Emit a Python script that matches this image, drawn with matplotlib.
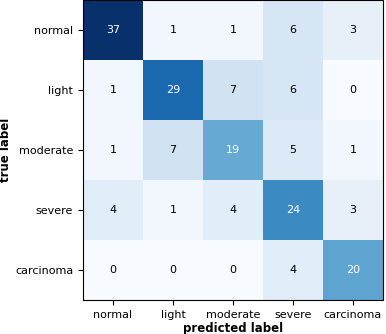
import matplotlib
matplotlib.use("Agg")
import matplotlib.pyplot as plt
import numpy as np

# class names (rows = true, columns = predicted)
CLASSES = ["normal", "light", "moderate", "severe", "carcinoma"]

ROW_NORMAL = [37, 1, 1, 6, 3]
ROW_LIGHT = [1, 29, 7, 6, 0]
ROW_MODERATE = [1, 7, 19, 5, 1]
ROW_SEVERE = [4, 1, 4, 24, 3]
ROW_CARCINOMA = [0, 0, 0, 4, 20]

conf = np.array([ROW_NORMAL, ROW_LIGHT, ROW_MODERATE, ROW_SEVERE, ROW_CARCINOMA])

fig = plt.figure(figsize=(3.86, 3.34), dpi=100)
ax = fig.add_axes([0.215, 0.102, 0.777, 0.898])

ax.imshow(conf, cmap="Blues", aspect="auto", vmin=0, vmax=conf.max())

thresh = conf.max() / 2
for i in range(conf.shape[0]):
    for j in range(conf.shape[1]):
        v = conf[i, j]
        ax.text(j, i, str(v), ha="center", va="center", fontsize=8,
                color="white" if v > thresh else "black")

ax.set_xticks(range(len(CLASSES)))
ax.set_xticklabels(CLASSES, fontsize=8)
ax.set_yticks(range(len(CLASSES)))
ax.set_yticklabels(CLASSES, fontsize=8)
ax.set_xlabel("predicted label", fontsize=8.5, fontweight="bold", labelpad=2)
ax.set_ylabel("true label", fontsize=8.5, fontweight="bold", labelpad=2)

fig.savefig("out.png", dpi=100)
